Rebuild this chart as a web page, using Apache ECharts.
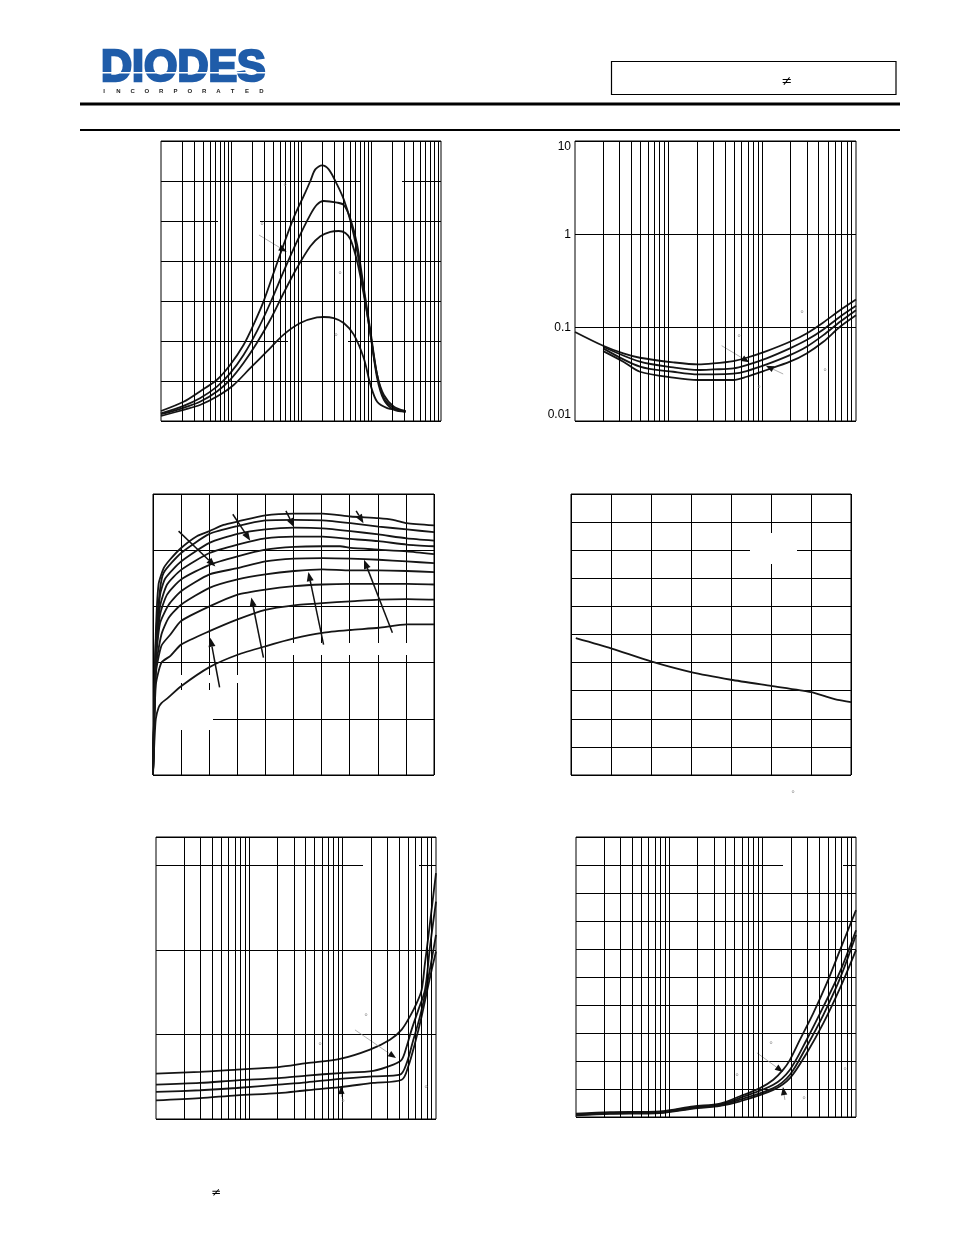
<!DOCTYPE html>
<html><head><meta charset="utf-8">
<script src="https://cdn.jsdelivr.net/npm/echarts/dist/echarts.min.js"></script>
<style>html,body{margin:0;padding:0;background:#fff;}#c{width:954px;height:1235px;}</style>
</head><body><div id="c"></div>
<script>
// ---------- Chart 1 (log x, linear y) ----------
const c1_A = [[1,25],[2.1,48],[3.6,74],[6.3,103],[9.7,140],[15.1,190],[21,241],[29.2,299],[40.6,370],[56.5,441],[78.5,508],[115,571],[136,600],[160,629],[200,639],[249,629],[328,591],[408,554],[509,500],[634,424],[789,324],[984,216],[1225,115],[1527,65],[2124,36],[3120,25]];
const c1_B = [[1,19],[2.1,38],[3.6,57],[6.3,86],[9.7,119],[15.1,165],[23.4,224],[36.4,295],[56.5,374],[87.7,449],[136,516],[169,541],[211,550],[328,546],[408,540],[509,505],[634,441],[789,333],[984,224],[1225,115],[1527,57],[2124,32],[3120,23]];
const c1_C = [[1,17],[2.1,33],[3.6,48],[6.3,74],[9.7,103],[15.1,145],[23.4,195],[36.4,253],[56.5,320],[87.7,383],[136,437],[189,462],[263,473],[346,475],[431,470],[509,454],[634,399],[789,316],[984,216],[1225,107],[1527,53],[2124,28],[3120,23]];
const c1_D = [[1,12.5],[2.1,28],[3.6,40],[6.3,61],[10.9,90],[18.8,132],[32.6,174],[56.5,216],[97.8,245],[169,259],[211,260],[294,257],[408,245],[568,216],[789,157],[984,90],[1225,48],[1705,32],[2371,28],[3120,25]];
const c1_arrows = [[[25.1,465],[62.5,423]]];

// ---------- Chart 2 (log-log) ----------
const c2_yTicks = [0.01, 0.1, 1, 10];
const c2_yTickLabels = ['0.01', '0.1', '1', '10'];
const c2_A = [[1,0.090],[2,0.064],[3.28,0.053],[4.94,0.0476],[11.2,0.0425],[20.7,0.0404],[30,0.0414],[49,0.0439],[68,0.0476],[111,0.0561],[197,0.0706],[297,0.0867],[448,0.1138],[675,0.154],[1000,0.2005]];
const c2_B = [[2,0.0625],[4.94,0.0432],[11.2,0.0375],[20.7,0.0352],[30,0.0357],[49,0.0366],[68,0.0397],[111,0.0469],[197,0.0600],[297,0.0736],[448,0.0957],[675,0.131],[1000,0.1715]];
const c2_C = [[2,0.0600],[4.94,0.0382],[11.2,0.0337],[20.7,0.0316],[30,0.0316],[49,0.0321],[68,0.0343],[111,0.0404],[197,0.0508],[297,0.0625],[448,0.0832],[675,0.1156],[1000,0.154]];
const c2_D = [[2,0.0561],[3.28,0.0432],[4.94,0.0337],[11.2,0.0291],[20.7,0.0275],[30,0.0275],[49,0.0275],[68,0.0298],[111,0.0352],[197,0.0432],[297,0.053],[448,0.0706],[675,0.1023],[1000,0.136]];
const c2_arrows = [[[36.8,0.0641],[72.6,0.0426]], [[167,0.0319],[109,0.0391]]];

// ---------- Chart 3 (linear, output curves) ----------
const c3_1 = [[0,0],[0.1,2.5],[0.2,3.4],[0.38,3.68],[0.6,3.83],[1.0,4.04],[1.56,4.25],[2.01,4.34],[2.51,4.45],[3.01,4.51],[4.0,4.62],[5.02,4.65],[6.03,4.65],[7.03,4.60],[8.03,4.57],[8.55,4.54],[9.03,4.48],[10,4.44]];
const c3_2 = [[0,0],[0.1,2.4],[0.25,3.3],[0.38,3.6],[1.0,3.95],[2.01,4.29],[3.01,4.43],[4.0,4.53],[5.02,4.54],[6.03,4.53],[7.03,4.48],[8.03,4.42],[9.03,4.37],[10,4.32]];
const c3_3 = [[0,0],[0.1,2.3],[0.25,3.2],[0.44,3.5],[1.0,3.80],[2.01,4.13],[3.01,4.29],[4.0,4.37],[5.02,4.40],[6.03,4.39],[7.03,4.34],[8.03,4.28],[9.03,4.21],[10,4.17]];
const c3_4 = [[0,0],[0.1,2.2],[0.25,3.0],[0.5,3.39],[1.0,3.65],[2.01,3.95],[3.01,4.10],[4.0,4.21],[5.02,4.24],[6.03,4.24],[7.03,4.20],[8.03,4.16],[9.03,4.10],[10,4.07]];
const c3_5 = [[0,0],[0.1,2.1],[0.25,2.85],[0.5,3.21],[1.0,3.48],[2.01,3.74],[3.01,3.89],[4.0,4.01],[5.02,4.06],[6.03,4.07],[6.66,4.07],[7.03,4.04],[8.03,4.01],[9.03,3.98],[10,3.93]];
const c3_6 = [[0,0],[0.1,2.0],[0.25,2.7],[0.56,3.03],[1.0,3.27],[2.01,3.57],[3.01,3.68],[4.0,3.80],[5.02,3.85],[6.03,3.86],[7.03,3.85],[8.03,3.83],[9.03,3.80],[10,3.77]];
const c3_7 = [[0,0],[0.1,1.9],[0.3,2.5],[0.56,2.80],[1.0,3.03],[2.01,3.33],[3.01,3.48],[4.0,3.57],[5.02,3.63],[6.03,3.66],[7.03,3.64],[8.03,3.64],[9.03,3.63],[10,3.61]];
const c3_8 = [[0,0],[0.1,1.8],[0.3,2.3],[0.62,2.5],[1.0,2.74],[2.01,3.00],[3.01,3.21],[4.0,3.30],[5.02,3.36],[6.03,3.39],[7.03,3.40],[8.03,3.40],[9.03,3.40],[10,3.39]];
const c3_9 = [[0,0],[0.1,1.6],[0.3,2.0],[0.62,2.12],[1.0,2.32],[2.01,2.56],[3.01,2.77],[4.0,2.94],[5.02,3.02],[6.03,3.06],[7.03,3.09],[8.03,3.12],[9.03,3.13],[10,3.12]];
const c3_10 = [[0,0],[0.05,0.6],[0.1,1.0],[0.2,1.2],[0.3,1.28],[0.5,1.36],[1.0,1.58],[2.01,1.92],[3.01,2.14],[4.0,2.29],[5.02,2.43],[6.03,2.53],[7.03,2.58],[8.03,2.62],[9.03,2.68],[10,2.68]];
const c3_arrows = [
  [[0.91,4.34],[2.22,3.71]], [[2.84,4.64],[3.46,4.17]], [[4.73,4.70],[5.02,4.41]], [[7.23,4.70],[7.49,4.48]],
  [[2.37,1.56],[2.04,2.44]], [[3.93,2.09],[3.50,3.16]], [[6.07,2.32],[5.53,3.61]], [[8.52,2.53],[7.51,3.83]]
];

// ---------- Chart 4 (linear, single line) ----------
const c4_line = [[0.12,4.87],[1,4.51],[2,4.04],[3,3.66],[4,3.39],[5,3.17],[6,2.95],[6.38,2.79],[6.67,2.67],[7,2.59]];

// ---------- Chart 5 (log x, linear y) ----------
const c5_A = [[1,0.161],[2.96,0.167],[7.32,0.175],[20.5,0.184],[41.1,0.198],[93.6,0.213],[196,0.246],[321,0.281],[429,0.317],[526,0.364],[621,0.411],[702,0.458],[762,0.553],[828,0.647],[914,0.765],[1000,0.872]];
const c5_B = [[1,0.122],[2.96,0.128],[7.32,0.137],[20.5,0.145],[41.1,0.154],[93.6,0.163],[213,0.171],[349,0.193],[429,0.210],[485,0.257],[548,0.317],[647,0.387],[762,0.458],[863,0.612],[1000,0.771]];
const c5_C = [[1,0.096],[2.96,0.102],[7.32,0.110],[20.5,0.122],[41.1,0.130],[93.6,0.142],[213,0.151],[411,0.157],[485,0.198],[572,0.281],[674,0.364],[781,0.458],[899,0.565],[1000,0.653]];
const c5_D = [[1,0.066],[2.96,0.074],[7.32,0.084],[20.5,0.092],[41.1,0.102],[93.6,0.113],[213,0.128],[429,0.139],[505,0.187],[596,0.269],[702,0.364],[807,0.458],[899,0.529],[1000,0.594]];
const c5_arrows = [[[135.5,0.316],[373,0.216]], [[97.2,0.078],[96,0.117]]];

// ---------- Chart 6 (log x, linear y) ----------
const c6_A = [[1,0.012],[2.31,0.017],[7.94,0.020],[18.1,0.038],[34.9,0.048],[57.2,0.074],[93.6,0.103],[130,0.133],[166,0.169],[196,0.204],[251,0.276],[349,0.371],[485,0.477],[674,0.596],[1000,0.739]];
const c6_B = [[1,0.010],[2.31,0.015],[7.94,0.018],[18.1,0.035],[34.9,0.045],[57.2,0.068],[130,0.115],[196,0.169],[296,0.276],[447,0.394],[674,0.519],[1000,0.667]];
const c6_C = [[1,0.008],[2.31,0.013],[7.94,0.016],[18.1,0.032],[34.9,0.042],[57.2,0.062],[130,0.103],[196,0.151],[296,0.252],[447,0.365],[674,0.495],[1000,0.650]];
const c6_D = [[1,0.006],[2.31,0.011],[7.94,0.014],[18.1,0.030],[34.9,0.040],[57.2,0.056],[130,0.097],[196,0.139],[296,0.228],[447,0.335],[674,0.460],[1000,0.596]];
const c6_arrows = [[[86.9,0.229],[165,0.161]], [[173,0.061],[165,0.107]]];

// ---------- erased label boxes and degree marks (page pixels) ----------
const labelBoxes = [
  [252,182,43,16],[218,220,42,18],[360,167,42,17],[300,270,52,17],[288,335,60,15],
  [788,148,32,20],[755,308,88,19],[698,332,59,16],[773,365,69,18],[713,383,49,19],
  [154,690,59,40],[292,643,138,12],[170,675,80,8],
  [750,533,47,31],
  [363,847,56,30],[327,1012,43,18],[278,1040,52,20],[297,1097,48,20],[388,1083,45,19],
  [783,845,60,32],[733,1042,50,15],[697,1073,53,11],[808,1063,45,20],[787,1093,27,15]
];
const degreeMarks = [[285,188],[262,227],[340,276],[336,338],[802,315],[739,339],[825,373],[759,390],[793,795],[366,1018],[320,1047],[343,1104],[426,1090],[771,1046],[737,1078],[845,1072],[804,1101]];

// ---------- layout ----------
const grids = [
  {left:161, top:141, width:280, height:280},
  {left:575, top:141, width:281, height:280},
  {left:153, top:494, width:281, height:281},
  {left:571, top:494, width:280, height:281},
  {left:156, top:837, width:280, height:282},
  {left:576, top:837, width:280, height:280}
];

const chart = echarts.init(document.getElementById('c'), null, {renderer:'canvas'});
const SL = {show:true, lineStyle:{color:'#000', width:1}};
function ax(extra){
  return Object.assign({axisLine:{show:false}, axisTick:{show:false}, axisLabel:{show:false}, splitLine:SL}, extra);
}
function logLines(min, max){
  const out = [];
  for (let e = Math.round(Math.log10(min)); e < Math.round(Math.log10(max)); e++)
    for (let k = 1; k <= 9; k++) { const v = k * Math.pow(10, e); if (v > min * 1.0001 && v < max * 0.9999) out.push(v); }
  return out;
}
function gridLines(gi, xmin, xmax, ymin){
  return {type:'line', xAxisIndex:gi, yAxisIndex:gi, data:[[xmin, ymin]], symbol:'none', lineStyle:{opacity:0}, silent:true, z:1,
    markLine:{silent:true, symbol:['none','none'], label:{show:false}, lineStyle:{color:'#000', width:1, type:'solid'},
      data: logLines(xmin, xmax).map(v => ({xAxis:v}))}};
}
function curve(gi, data, sm){
  return {type:'line', xAxisIndex:gi, yAxisIndex:gi, data:data, showSymbol:false, symbol:'none',
    smooth: sm === undefined ? 0.3 : sm, lineStyle:{color:'#151515', width:1.8}, z:3, silent:true};
}

const option = {
  animation:false,
  backgroundColor:'#fff',
  grid: grids.map(g => Object.assign({show:true, borderColor:'#000', borderWidth:1, backgroundColor:'transparent'}, g)),
  xAxis: [
    ax({type:'log', logBase:10, min:1, max:10000, gridIndex:0, splitLine:{show:false}}),
    ax({type:'log', logBase:10, min:1, max:1000, gridIndex:1, splitLine:{show:false}}),
    ax({type:'value', min:0, max:10, interval:1, gridIndex:2}),
    ax({type:'value', min:0, max:7, interval:1, gridIndex:3}),
    ax({type:'log', logBase:10, min:1, max:1000, gridIndex:4, splitLine:{show:false}}),
    ax({type:'log', logBase:10, min:1, max:1000, gridIndex:5, splitLine:{show:false}})
  ],
  yAxis: [
    ax({type:'value', min:0, max:700, interval:100, gridIndex:0}),
    ax({type:'log', logBase:10, min:0.01, max:10, gridIndex:1,
      axisLabel:{show:true, color:'#000', fontSize:12, fontFamily:'Liberation Sans', margin:4,
        verticalAlignMinLabel:'bottom', verticalAlignMaxLabel:'top',
        formatter: v => { const i = c2_yTicks.findIndex(t => Math.abs(Math.log10(t) - Math.log10(v)) < 1e-6); return i >= 0 ? c2_yTickLabels[i] : ''; }}}),
    ax({type:'value', min:0, max:5, interval:1, gridIndex:2}),
    ax({type:'value', min:0, max:10, interval:1, gridIndex:3}),
    ax({type:'value', min:0, max:1.0, interval:0.3, gridIndex:4}),
    ax({type:'value', min:0, max:1.0, interval:0.1, gridIndex:5})
  ],
  series: [
    gridLines(0, 1, 10000, 0), gridLines(1, 1, 1000, 0.01), gridLines(4, 1, 1000, 0), gridLines(5, 1, 1000, 0),
    curve(0, c1_A), curve(0, c1_B), curve(0, c1_C), curve(0, c1_D),
    curve(1, c2_A), curve(1, c2_B), curve(1, c2_C), curve(1, c2_D),
    curve(2, c3_1, 0.2), curve(2, c3_2, 0.2), curve(2, c3_3, 0.2), curve(2, c3_4, 0.2), curve(2, c3_5, 0.2),
    curve(2, c3_6, 0.2), curve(2, c3_7, 0.2), curve(2, c3_8, 0.2), curve(2, c3_9, 0.2), curve(2, c3_10, 0.2),
    curve(3, c4_line, 0.2),
    curve(4, c5_A), curve(4, c5_B), curve(4, c5_C), curve(4, c5_D),
    curve(5, c6_A), curve(5, c6_B), curve(5, c6_C), curve(5, c6_D)
  ]
};
chart.setOption(option);

// ---------- annotations ----------
const G = [];
function txt(t, x, y, font, fill, align, extra){
  return Object.assign({type:'text', x:x, y:y, z:5, silent:true,
    style:{text:t, x:0, y:0, font:font, fill:fill, textAlign:align||'left', align:align||'left', textVerticalAlign:'middle', verticalAlign:'middle'}}, extra||{});
}
// header
G.push({type:'text', x:101, y:69, z:5, silent:true, scaleX:0.955,
  style:{text:'DIODES', x:0, y:0, font:'bold 45px "Liberation Sans"', fill:'#1f5ca9', stroke:'#1f5ca9', lineWidth:2.6,
    textAlign:'left', align:'left', textVerticalAlign:'middle', verticalAlign:'middle'}});
G.push({type:'rect', z:6, silent:true, shape:{x:99, y:72, width:168, height:1.6}, style:{fill:'#fff'}});
'INCORPORATED'.split('').forEach((ch, i) => G.push(txt(ch, 104 + i * 14.3, 91, 'bold 6px "Liberation Sans"', '#222', 'center')));
G.push({type:'rect', z:5, silent:true, shape:{x:611.5, y:61.5, width:284.5, height:33}, style:{fill:'none', stroke:'#000', lineWidth:1.2}});
G.push(txt('\u2260', 787, 82, '13px "DejaVu Sans"', '#000', 'center'));
G.push({type:'line', z:5, silent:true, shape:{x1:80, y1:104, x2:900, y2:104}, style:{stroke:'#000', lineWidth:3}});
G.push({type:'line', z:5, silent:true, shape:{x1:80, y1:130, x2:900, y2:130}, style:{stroke:'#000', lineWidth:2}});
G.push(txt('\u2260', 216, 1193, '12px "DejaVu Sans"', '#000', 'center'));
// erased label boxes (white) covering grid lines
labelBoxes.forEach(b => G.push({type:'rect', z:2, silent:true, shape:{x:b[0], y:b[1], width:b[2], height:b[3]}, style:{fill:'#fff'}}));
degreeMarks.forEach(d => G.push(txt('\u00b0', d[0], d[1], '9px "Liberation Sans"', '#888', 'center')));
// arrows through the library's coordinate conversion
function arrow(gi, from, to, lineCol, lw, L, W){
  const p0 = chart.convertToPixel({gridIndex:gi}, from);
  const p1 = chart.convertToPixel({gridIndex:gi}, to);
  const dx = p1[0] - p0[0], dy = p1[1] - p0[1], len = Math.hypot(dx, dy) || 1;
  const ux = dx / len, uy = dy / len;
  const bx = p1[0] - ux * L, by = p1[1] - uy * L;
  G.push({type:'line', z:4, silent:true, shape:{x1:p0[0], y1:p0[1], x2:bx, y2:by}, style:{stroke:lineCol, lineWidth:lw}});
  G.push({type:'polygon', z:4, silent:true, shape:{points:[[p1[0], p1[1]], [bx - uy * W, by + ux * W], [bx + uy * W, by - ux * W]]}, style:{fill:'#111'}});
}
c1_arrows.forEach(a => arrow(0, a[0], a[1], '#999', 0.8, 8, 3.2));
c2_arrows.forEach(a => arrow(1, a[0], a[1], '#999', 0.8, 8, 3.2));
c3_arrows.forEach(a => arrow(2, a[0], a[1], '#111', 1.5, 9, 3.5));
c5_arrows.forEach(a => arrow(4, a[0], a[1], '#999', 0.8, 8, 3.2));
c6_arrows.forEach(a => arrow(5, a[0], a[1], '#999', 0.8, 8, 3.2));
chart.setOption({graphic:{elements:G}});
</script></body></html>
